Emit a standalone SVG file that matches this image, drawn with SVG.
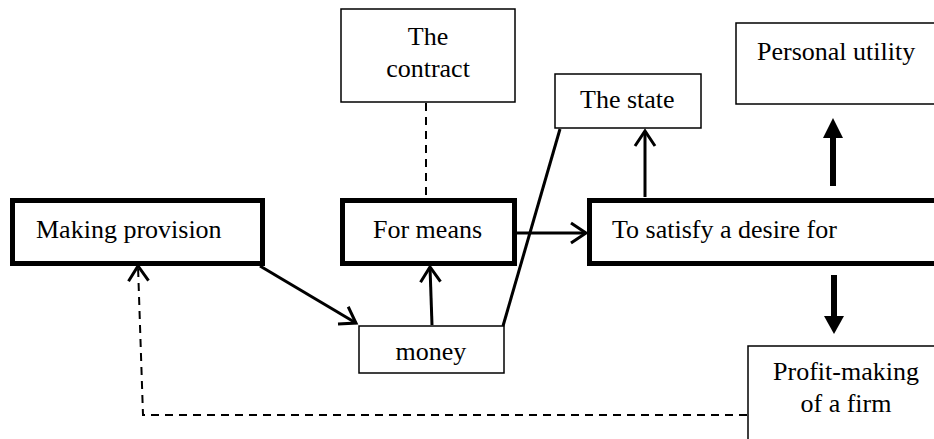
<svg xmlns="http://www.w3.org/2000/svg" width="934" height="439" viewBox="0 0 934 439">
  <style>
    text { font-family: "Liberation Serif", "Times New Roman", serif; font-size: 26px; fill: #000; }
    .thick { fill: #fff; stroke: #000; stroke-width: 5; }
    .thin { fill: #fff; stroke: #000; stroke-width: 1.5; }
    .link { fill: none; stroke: #000; stroke-width: 3; }
    .dash { fill: none; stroke: #000; stroke-width: 2; stroke-dasharray: 8 6; }
    .mid { text-anchor: middle; }
  </style>
  <defs>
    <marker id="open" markerUnits="userSpaceOnUse" viewBox="-18 -12 20 24" markerWidth="20" markerHeight="24" refX="0" refY="0" orient="auto" overflow="visible">
      <path d="M-15,-10 L0,0 L-15,10" fill="none" stroke="#000" stroke-width="3" stroke-linejoin="miter"/>
    </marker>
  </defs>

  <rect width="934" height="439" fill="#fff"/>

  <!-- connectors -->
  <g id="connectors">
    <line class="dash" x1="426" y1="103" x2="426" y2="196"/>
    <line class="link" x1="260" y1="266" x2="356" y2="323" marker-end="url(#open)"/>
    <line class="link" x1="432" y1="325" x2="430" y2="267" marker-end="url(#open)"/>
    <line class="link" x1="517" y1="233" x2="586" y2="233" marker-end="url(#open)"/>
    <line class="link" x1="645" y1="197" x2="645" y2="131" marker-end="url(#open)"/>
    <line class="link" x1="503" y1="326" x2="560" y2="129"/>
    <polyline class="dash" points="747,415 143,415 138,266" marker-end="url(#open)"/>
    <!-- bold arrows -->
    <line x1="833" y1="186" x2="833" y2="135" stroke="#000" stroke-width="6"/>
    <polygon points="823,138 843,138 833,118" fill="#000"/>
    <line x1="834" y1="275" x2="834" y2="319" stroke="#000" stroke-width="6"/>
    <polygon points="824,316 844,316 834,334" fill="#000"/>
  </g>

  <g id="making-provision">
    <rect class="thick" x="12.5" y="200.5" width="250" height="63"/>
    <text x="36" y="238">Making provision</text>
  </g>

  <g id="for-means">
    <rect class="thick" x="342.5" y="200.5" width="172" height="63"/>
    <text x="373" y="238">For means</text>
  </g>

  <g id="satisfy-desire">
    <rect class="thick" x="589.5" y="200.5" width="360" height="63"/>
    <text x="612" y="238">To satisfy a desire for</text>
  </g>

  <g id="contract">
    <rect class="thin" x="341" y="9" width="174" height="93"/>
    <text class="mid" x="428" y="45">The</text>
    <text class="mid" x="428" y="77">contract</text>
  </g>

  <g id="state">
    <rect class="thin" x="555" y="74" width="146" height="54"/>
    <text x="580" y="108">The state</text>
  </g>

  <g id="personal-utility">
    <rect class="thin" x="736" y="23" width="210" height="81"/>
    <text x="757" y="60">Personal utility</text>
  </g>

  <g id="money">
    <rect class="thin" x="359" y="326" width="145" height="47"/>
    <text class="mid" x="431" y="360">money</text>
  </g>

  <g id="profit-making">
    <rect class="thin" x="748" y="346" width="200" height="100"/>
    <text class="mid" x="846" y="380">Profit-making</text>
    <text class="mid" x="846" y="412">of a firm</text>
  </g>
</svg>
